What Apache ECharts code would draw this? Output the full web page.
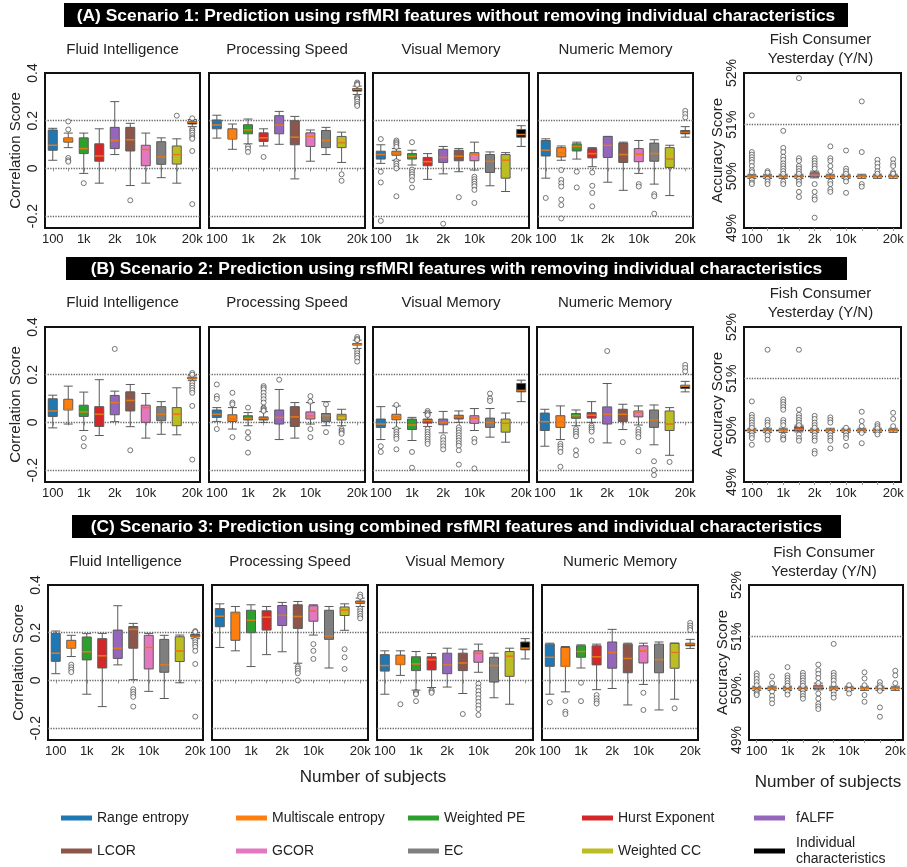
<!DOCTYPE html>
<html>
<head>
<meta charset="utf-8">
<script src="https://cdn.jsdelivr.net/npm/echarts@6/dist/echarts.min.js"></script>
<style>
  html, body { margin: 0; padding: 0; background: #fff; }
  #chart { width: 907px; height: 867px; }
</style>
</head>
<body>
<div id="chart"></div>
<script>
// methods (one box each, left to right) and the x tick labels under them
const methods = ['Range entropy', 'Multiscale entropy', 'Weighted PE', 'Hurst Exponent', 'fALFF',
  'LCOR', 'GCOR', 'EC', 'Weighted CC', 'Individual characteristics'];
const xTickLabels = ['100', '', '1k', '', '2k', '', '10k', '', '', '20k'];
const panelTitles = ['Fluid Intelligence', 'Processing Speed', 'Visual Memory', 'Numeric Memory', 'Fish Consumer\nYesterday (Y/N)'];
const bannerTexts = [
  '(A) Scenario 1: Prediction using rsfMRI features without removing individual characteristics',
  '(B) Scenario 2: Prediction using rsfMRI features with removing individual characteristics',
  '(C) Scenario 3: Prediction using combined rsfMRI features and individual characteristics'
];
const corrTicks = [-0.2, 0, 0.2, 0.4];
const accTicks = [49, 50, 51, 52];

// [min, Q1, median, Q3, max] per method; outliers per method
// ---- Scenario 1
const aFluid = [[0.034,0.076,0.097,0.161,0.168],[0.087,0.110,0.124,0.128,0.148],[-0.021,0.062,0.083,0.128,0.148],[-0.062,0.030,0.052,0.103,0.166],[0.058,0.083,0.117,0.172,0.280],[-0.072,0.073,0.120,0.172,0.189],[-0.062,0.011,0.079,0.097,0.148],[-0.039,0.017,0.048,0.112,0.128],[-0.062,0.018,0.058,0.094,0.124],[0.175,0.186,0.193,0.197,0.205]];
const aFluidOut = [[],[0.197,0.163,0.044,0.034,0.028],[-0.062],[],[],[-0.134],[],[],[0.221],[0.21,0.165,0.158,0.15,0.14,0.13,0.124,0.073,-0.15]];
const aSpeed = [[0.127,0.166,0.182,0.203,0.223],[0.080,0.123,0.125,0.166,0.186],[0.103,0.145,0.161,0.183,0.207],[0.094,0.113,0.128,0.149,0.166],[0.101,0.145,0.182,0.221,0.239],[-0.044,0.099,0.131,0.200,0.218],[0.030,0.092,0.134,0.149,0.161],[0.058,0.087,0.117,0.159,0.172],[0.025,0.087,0.108,0.134,0.152],[0.310,0.324,0.331,0.335,0.345]];
const aSpeedOut = [[],[],[0.092,0.083,0.069],[0.048],[],[],[],[],[-0.025,-0.052],[0.36,0.355,0.35,0.3,0.295,0.29,0.28,0.27,0.262]];
const aVisual = [[0.021,0.039,0.058,0.072,0.099],[0.034,0.055,0.065,0.072,0.083],[0.014,0.039,0.051,0.062,0.076],[-0.046,0.011,0.028,0.046,0.062],[-0.023,0.025,0.046,0.080,0.092],[-0.014,0.032,0.051,0.076,0.083],[-0.007,0.032,0.059,0.066,0.110],[-0.073,-0.017,0.030,0.058,0.069],[-0.097,-0.041,0.034,0.058,0.066],[0.092,0.131,0.142,0.163,0.179]];
const aVisualOut = [[0.123,-0.014,-0.059,-0.22],[0.117,0.11,0.105,0.098,0.09,0.03,0.02,0.01,0.0,-0.117],[0.11,-0.005,-0.015,-0.025,-0.035,-0.05,-0.08],[],[-0.232],[-0.121],[-0.035,-0.045,-0.055,-0.065,-0.075,-0.09,-0.145],[],[],[]];
const aNumeric = [[-0.041,0.052,0.076,0.117,0.124],[0.034,0.048,0.066,0.087,0.094],[0.039,0.073,0.092,0.103,0.110],[0.007,0.044,0.062,0.083,0.087],[-0.058,0.046,0.097,0.134,0.134],[-0.092,0.025,0.058,0.106,0.110],[-0.021,0.028,0.059,0.083,0.117],[-0.066,0.030,0.062,0.106,0.120],[-0.114,0.004,0.039,0.087,0.097],[0.131,0.145,0.152,0.159,0.175]];
const aNumericOut = [[-0.124],[-0.007,-0.048,-0.062,-0.076,-0.131,-0.154,-0.21],[-0.014,-0.08],[-0.017,-0.073,-0.103,-0.159],[],[],[-0.066,-0.076],[-0.108,-0.117,-0.19],[],[0.241,0.228,0.214]];
const aFish = [[49.96,49.99,50.0,50.01,50.04],[49.96,49.99,50.0,50.01,50.04],[49.96,49.99,50.0,50.01,50.04],[49.96,49.99,50.0,50.01,50.04],[49.97,49.99,50.02,50.07,50.1],[49.96,49.99,50.0,50.01,50.04],[49.96,49.99,50.0,50.01,50.04],[49.96,49.99,50.0,50.01,50.04],[49.96,49.99,50.0,50.01,50.04],[49.96,49.99,50.0,50.01,50.04]];
const aFishOut = [[51.18,50.47,50.42,50.37,50.32,50.27,50.2,50.12,50.08,49.93,49.88,49.85],[50.1,50.07,49.95,49.9,49.85],[50.88,50.55,50.47,50.38,50.32,50.25,50.2,50.15,50.1,50.05,49.9,49.85],[51.9,50.35,50.3,50.2,50.15,50.1,50.05,49.95,49.9,49.85,49.7,49.6],[50.35,50.3,50.25,50.2,50.15,49.85,49.7,49.6,49.55,49.2],[50.58,50.35,50.3,50.2,50.1,49.9,49.85,49.75,49.7],[50.5,50.15,50.1,50.05,49.95,49.9,49.68],[51.45,50.47,49.85,49.8],[50.32,50.25,50.18,50.1,50.05],[50.33,50.25,50.2,50.08,50.05]];

// ---- Scenario 2
const bFluid = [[-0.023,0.025,0.048,0.099,0.114],[-0.007,0.052,0.055,0.097,0.152],[-0.034,0.025,0.044,0.072,0.127],[-0.055,-0.017,0.034,0.066,0.179],[0.003,0.032,0.083,0.113,0.131],[-0.018,0.048,0.092,0.128,0.159],[-0.066,0.000,0.062,0.072,0.121],[-0.050,0.007,0.034,0.066,0.087],[-0.052,-0.014,0.034,0.062,0.145],[0.175,0.182,0.186,0.190,0.198]];
const bFluidOut = [[],[],[-0.066,-0.1],[],[0.308],[-0.117],[],[],[],[0.207,0.2,0.165,0.155,0.145,0.135,0.124,0.069,-0.156]];
const bSpeed = [[0.004,0.021,0.034,0.052,0.062],[-0.028,0.004,0.014,0.032,0.062],[-0.014,0.010,0.017,0.028,0.041],[0.000,0.010,0.017,0.023,0.045],[-0.072,-0.007,0.021,0.052,0.138],[-0.066,-0.017,0.023,0.066,0.083],[-0.007,0.014,0.028,0.044,0.083],[-0.014,0.004,0.028,0.037,0.087],[-0.014,0.010,0.028,0.034,0.055],[0.310,0.324,0.327,0.331,0.345]];
const bSpeedOut = [[0.159,0.11,0.099,-0.028],[0.124,0.083,0.076,-0.062],[0.062,-0.041,-0.066,-0.127],[0.152,0.145,0.138,0.124,0.11,0.097,0.083,0.062,0.058,0.052,0.048],[0.179],[],[0.11,0.087,-0.028,-0.062],[0.076,-0.041],[-0.028,-0.035,-0.042,-0.048,-0.083],[0.358,0.35,0.345,0.3,0.29,0.28,0.27,0.255]];
const bVisual = [[-0.072,-0.021,-0.007,0.014,0.066],[-0.025,0.011,0.023,0.034,0.069],[-0.076,-0.030,-0.011,0.014,0.021],[-0.017,-0.003,0.007,0.014,0.041],[-0.044,-0.010,0.000,0.014,0.046],[0.000,0.014,0.023,0.030,0.048],[-0.034,-0.004,0.017,0.028,0.058],[-0.062,-0.021,0.000,0.018,0.058],[-0.083,-0.041,-0.004,0.014,0.039],[0.087,0.128,0.134,0.163,0.177]];
const bVisualOut = [[-0.1,-0.124],[0.073,-0.028,-0.04,-0.05,-0.06,-0.069,-0.113],[-0.124,-0.19],[0.048,0.041,0.035,0.03,-0.028,-0.04,-0.05,-0.06,-0.07,-0.08,-0.09],[-0.062,-0.075,-0.088,-0.1,-0.113],[-0.021,-0.032,-0.043,-0.054,-0.065,-0.076,-0.087,-0.098,-0.117,-0.177],[-0.069,-0.083,-0.193],[0.121,0.1,0.09],[],[]];
const bNumeric = [[-0.100,-0.034,0.003,0.039,0.055],[-0.072,-0.021,0.003,0.028,0.069],[-0.014,0.017,0.028,0.037,0.052],[0.000,0.018,0.030,0.041,0.087],[-0.086,-0.007,0.034,0.065,0.163],[-0.030,0.004,0.034,0.055,0.076],[-0.011,0.023,0.044,0.048,0.069],[-0.094,-0.021,0.010,0.052,0.073],[-0.138,-0.034,-0.007,0.048,0.062],[0.128,0.142,0.152,0.156,0.172]];
const bNumericOut = [[],[-0.09,-0.1,-0.11,-0.124,-0.186],[-0.028,-0.038,-0.048,-0.058,-0.117,-0.138],[-0.014,-0.022,-0.03,-0.039,-0.076],[0.299],[-0.083],[-0.028,-0.04,-0.05,-0.062,-0.121],[-0.163,-0.2,-0.221],[-0.166],[0.241,0.228,0.214]];
const bFish = [[49.96,49.99,50.0,50.01,50.04],[49.96,49.99,50.0,50.01,50.04],[49.96,49.99,50.0,50.01,50.04],[49.97,50.0,50.02,50.07,50.1],[49.96,49.99,50.0,50.01,50.04],[49.96,49.99,50.0,50.01,50.04],[49.96,49.99,50.0,50.01,50.04],[49.96,49.99,50.0,50.01,50.04],[49.96,49.99,50.0,50.01,50.04],[49.96,49.99,50.0,50.01,50.04]];
const bFishOut = [[50.56,50.3,50.25,50.2,50.15,50.1,50.05,49.95,49.9,49.85,49.72],[51.56,50.2,50.15,50.1,49.95,49.9,49.82],[50.6,50.55,50.5,50.45,50.4,50.2,50.15,50.1,49.9,49.85,49.82],[51.56,50.4,50.3,50.25,50.2,50.15,50.1,49.92,49.85,49.8],[50.28,50.22,50.15,50.1,50.05,49.95,49.9,49.85,49.8,49.6,49.55],[50.25,50.2,50.15,49.95,49.9,49.85,49.8,49.65],[50.05,49.95,49.9,49.85,49.7],[50.36,50.18,50.08,49.95,49.75],[50.12,50.08,50.04,49.96,49.92],[50.34,50.22,50.08]];

// ---- Scenario 3
const cFluid = [[0.028,0.080,0.114,0.197,0.207],[0.100,0.135,0.138,0.168,0.189],[-0.058,0.086,0.120,0.182,0.196],[-0.110,0.052,0.103,0.175,0.197],[0.065,0.092,0.135,0.211,0.313],[0.003,0.135,0.214,0.226,0.239],[-0.046,0.048,0.138,0.189,0.197],[-0.076,0.034,0.065,0.172,0.189],[-0.010,0.079,0.124,0.183,0.190],[0.175,0.182,0.186,0.193,0.200]];
const cFluidOut = [[],[0.066,0.055,0.045,0.035],[],[],[],[-0.037,-0.048,-0.058,-0.069,-0.11],[],[],[],[0.207,0.203,0.17,0.16,0.15,0.14,0.124,0.069,-0.152]];
const cSpeed = [[0.138,0.225,0.269,0.301,0.321],[0.124,0.168,0.280,0.286,0.310],[0.058,0.200,0.252,0.294,0.317],[0.108,0.211,0.265,0.292,0.310],[0.120,0.230,0.273,0.314,0.327],[0.072,0.218,0.268,0.317,0.331],[0.190,0.248,0.290,0.313,0.317],[0.052,0.172,0.186,0.294,0.310],[0.210,0.272,0.294,0.308,0.321],[0.310,0.323,0.328,0.333,0.345]];
const cSpeedOut = [[],[],[],[],[],[0.058,0.05,0.04,0.03,0.0],[0.152,0.124,0.09],[],[0.131,0.097,0.048],[0.36,0.35,0.3,0.29,0.28,0.27,0.26]];
const cVisual = [[-0.058,0.039,0.062,0.108,0.124],[0.021,0.066,0.069,0.106,0.124],[-0.041,0.041,0.069,0.099,0.121],[-0.030,0.044,0.087,0.099,0.113],[-0.028,0.028,0.065,0.114,0.135],[-0.055,0.041,0.073,0.114,0.131],[0.034,0.076,0.113,0.124,0.152],[-0.073,-0.007,0.062,0.097,0.114],[-0.100,0.017,0.101,0.121,0.135],[0.090,0.128,0.135,0.161,0.175]];
const cVisualOut = [[],[-0.1],[-0.048,-0.053,-0.058,-0.087],[-0.041,-0.046,-0.052],[],[-0.141],[-0.014,-0.03,-0.045,-0.06,-0.075,-0.09,-0.105,-0.12,-0.145],[],[],[]];
const cNumeric = [[-0.058,0.059,0.097,0.152,0.156],[-0.048,0.058,0.060,0.138,0.142],[0.052,0.097,0.121,0.145,0.149],[-0.039,0.065,0.099,0.145,0.152],[-0.034,0.051,0.117,0.161,0.214],[-0.103,0.032,0.092,0.152,0.156],[-0.017,0.073,0.124,0.145,0.156],[-0.124,0.032,0.087,0.152,0.161],[-0.079,0.051,0.117,0.156,0.156],[0.134,0.145,0.152,0.156,0.172]];
const cNumericOut = [[-0.092],[-0.086,-0.131,-0.141],[-0.01,-0.087],[-0.062,-0.075,-0.087,-0.097],[],[],[-0.052,-0.124],[],[-0.117],[0.241,0.23,0.22,0.211]];
const cFish = [[49.96,49.99,50.0,50.01,50.04],[49.96,49.99,50.0,50.01,50.04],[49.96,49.99,50.0,50.01,50.04],[49.96,49.99,50.0,50.01,50.04],[49.97,50.0,50.02,50.06,50.1],[49.96,49.99,50.0,50.01,50.04],[49.96,49.99,50.0,50.01,50.04],[49.96,49.99,50.0,50.01,50.04],[49.96,49.99,50.0,50.01,50.04],[49.96,49.99,50.0,50.01,50.04]];
const cFishOut = [[50.29,50.24,50.18,50.12,50.06,49.94,49.9,49.87],[50.23,50.1,49.94,49.85,49.78,49.71],[50.41,50.25,50.2,50.15,50.1,50.05,49.94,49.88],[50.3,50.25,50.2,50.15,50.1,50.05,49.95,49.9,49.85,49.8],[50.46,50.35,50.28,50.2,50.1,49.9,49.8,49.7,49.65,49.6],[50.86,50.3,50.25,50.2,50.15,50.08,49.94,49.88,49.82],[50.06,49.97,49.9],[50.31,50.19,50.06,49.87,49.74],[50.12,50.06,50.02,49.95,49.63,49.45],[50.34,50.25,50.1]];

// ---------------------------------------------------------------- layout
const palette = ['#1f77b4', '#ff7f0e', '#2ca02c', '#d62728', '#9467bd', '#8c564b', '#e377c2', '#7f7f7f', '#bcbd22', '#000000'];
const FONT = "'Liberation Sans', Arial, sans-serif";
const rows = [
  { boxes: [aFluid, aSpeed, aVisual, aNumeric, aFish], outs: [aFluidOut, aSpeedOut, aVisualOut, aNumericOut, aFishOut] },
  { boxes: [bFluid, bSpeed, bVisual, bNumeric, bFish], outs: [bFluidOut, bSpeedOut, bVisualOut, bNumericOut, bFishOut] },
  { boxes: [cFluid, cSpeed, cVisual, cNumeric, cFish], outs: [cFluidOut, cSpeedOut, cVisualOut, cNumericOut, cFishOut] }
];
const rowTop = [73, 327, 585];
const gridH = 155;
const colX = [
  [[45, 200], [209, 365], [373, 529], [538, 693], [744, 901]],
  [[45, 200], [209, 365], [373, 529], [537, 693], [744, 901]],
  [[48, 203], [212, 368], [377, 533], [542, 698], [749, 903]]
];
const titleTop = [41, 294, 553];
const fishTitleTop = [30, 284, 543];
const banners = [[64, 3, 784, 24], [66, 257, 781, 23], [72, 515, 769, 23]];

// fit banner font to the measured text width of (B)
const ctx = document.createElement('canvas').getContext('2d');
ctx.font = 'bold 100px ' + FONT;
const bannerSize = 100 * 732 / ctx.measureText(bannerTexts[1]).width;

const grid = [], xAxis = [], yAxis = [], series = [], title = [], graphic = [];

rows.forEach((row, r) => {
  graphic.push({ type: 'rect', shape: { x: banners[r][0], y: banners[r][1], width: banners[r][2], height: banners[r][3] }, style: { fill: '#000' } });
  graphic.push({ type: 'text', x: banners[r][0] + banners[r][2] / 2, y: banners[r][1] + banners[r][3] / 2 + 1,
    style: { text: bannerTexts[r], fill: '#fff', font: 'bold ' + bannerSize.toFixed(2) + 'px ' + FONT, align: 'center', verticalAlign: 'middle' } });

  for (let c = 0; c < 5; c++) {
    const p = r * 5 + c;
    const corr = c < 4;
    const [x0, x1] = colX[r][c];
    const box = row.boxes[c];
    const out = row.outs[c];

    grid.push({ left: x0, top: rowTop[r], width: x1 - x0, height: gridH, show: true,
      borderColor: '#111', borderWidth: 2, backgroundColor: 'rgba(0,0,0,0)', containLabel: false, outerBoundsMode: 'none' });

    title.push({
      text: panelTitles[c], left: corr ? (x0 + x1) / 2 : (x0 + x1) / 2 - 2, top: corr ? titleTop[r] : fishTitleTop[r],
      textAlign: 'center', padding: 0,
      textStyle: { fontFamily: FONT, fontSize: 15, fontWeight: 'normal', color: '#222', lineHeight: corr ? 18 : 19 }
    });

    xAxis.push({
      gridIndex: p, type: 'category', data: methods,
      axisLine: { show: false },
      axisTick: { show: true, alignWithLabel: true, interval: 0, length: 3, lineStyle: { color: '#999' } },
      axisLabel: { interval: 0, formatter: (v, i) => xTickLabels[i], fontSize: 13, color: '#222', margin: 5, fontFamily: FONT },
      splitLine: { show: false }
    });

    if (corr) {
      yAxis.push({
        gridIndex: p, type: 'value', min: -0.25, max: 0.4, interval: 0.05,
        axisLine: { show: false }, axisTick: { show: false }, splitLine: { show: false },
        axisLabel: {
          show: c === 0, rotate: 90, fontSize: 14, color: '#222', margin: 5, fontFamily: FONT,
          formatter: v => { const k = Math.round(v * 100); return corrTicks.includes(k / 100) ? String(k / 100) : ''; }
        },
        name: c === 0 ? 'Correlation Score' : '', nameLocation: 'middle', nameGap: 22, nameMoveOverlap: false,
        nameTextStyle: { fontSize: 15, color: '#222', fontFamily: FONT }
      });
    } else {
      yAxis.push({
        gridIndex: p, type: 'value', min: 49, max: 52, interval: 1,
        axisLine: { show: false }, axisTick: { show: false }, splitLine: { show: false },
        axisLabel: {
          rotate: 90, fontSize: 14, color: '#222', margin: 5, fontFamily: FONT,
          formatter: v => accTicks.includes(v) ? (r === 2 && v === 50 ? v + '%.' : v + '%') : ''
        },
        name: 'Accuracy Score', nameLocation: 'middle', nameGap: 19, nameMoveOverlap: false,
        nameTextStyle: { fontSize: 15, color: '#222', fontFamily: FONT }
      });
    }

    series.push({
      type: 'boxplot', xAxisIndex: p, yAxisIndex: p, boxWidth: [9, 9], silent: true, z: 2,
      data: box.map((b, i) => ({ value: b, itemStyle: { color: palette[i], borderColor: '#5a5a5a', borderWidth: 1 } })),
      markLine: {
        silent: true, symbol: 'none', z: 1, label: { show: false },
        lineStyle: { type: 'dotted', color: '#666', width: 1.3 },
        data: corr ? [{ yAxis: 0.2 }, { yAxis: 0 }, { yAxis: -0.2 }]
                   : [{ yAxis: 51 }, { yAxis: 50, lineStyle: { color: '#333', type: [3, 2, 1, 2] } }]
      }
    });
    series.push({
      type: 'scatter', xAxisIndex: p, yAxisIndex: p, symbol: 'rect', symbolSize: [9, 1.6], silent: true, z: 3,
      itemStyle: { color: '#ff7f0e' },
      data: box.map((b, i) => [i, b[2]])
    });
    series.push({
      type: 'scatter', xAxisIndex: p, yAxisIndex: p, symbol: 'circle', symbolSize: 5, silent: true, z: 4,
      itemStyle: { color: '#fff', borderColor: '#444', borderWidth: 0.9 },
      data: out.flatMap((vals, i) => vals.map(v => [i, v]))
    });
  }
});

title.push({ text: 'Number of subjects', left: 373, top: 768, textAlign: 'center', padding: 0,
  textStyle: { fontFamily: FONT, fontSize: 17, fontWeight: 'normal', color: '#222', lineHeight: 18 } });
title.push({ text: 'Number of subjects', left: 828, top: 773, textAlign: 'center', padding: 0,
  textStyle: { fontFamily: FONT, fontSize: 17, fontWeight: 'normal', color: '#222', lineHeight: 18 } });

// legend entries (empty series carry the names/colours)
methods.forEach((m, i) => {
  series.push({ type: 'line', name: m, data: [], xAxisIndex: 0, yAxisIndex: 0, symbol: 'none',
    itemStyle: { color: palette[i] }, lineStyle: { color: palette[i] } });
});
const legendX = [61, 236, 408, 582, 754];
const legendY = [818, 851];
const legend = methods.map((m, i) => {
  const col = i % 5, rw = Math.floor(i / 5);
  const twoLine = m === 'Individual characteristics';
  return {
    left: legendX[col], top: legendY[rw] - (twoLine ? 16 : 8), padding: 0,
    itemWidth: 31, itemHeight: 5, icon: 'rect', selectedMode: false,
    data: [m],
    formatter: twoLine ? 'Individual\ncharacteristics' : '{name}',
    textStyle: { fontFamily: FONT, fontSize: 14, color: '#222', lineHeight: 16,
      padding: col === 4 ? [0, 0, 0, 6] : 0 }
  };
});

const chart = echarts.init(document.getElementById('chart'));
chart.setOption({
  animation: false,
  backgroundColor: '#fff',
  textStyle: { fontFamily: FONT },
  title, legend, grid, xAxis, yAxis, series, graphic
});
</script>
</body>
</html>
